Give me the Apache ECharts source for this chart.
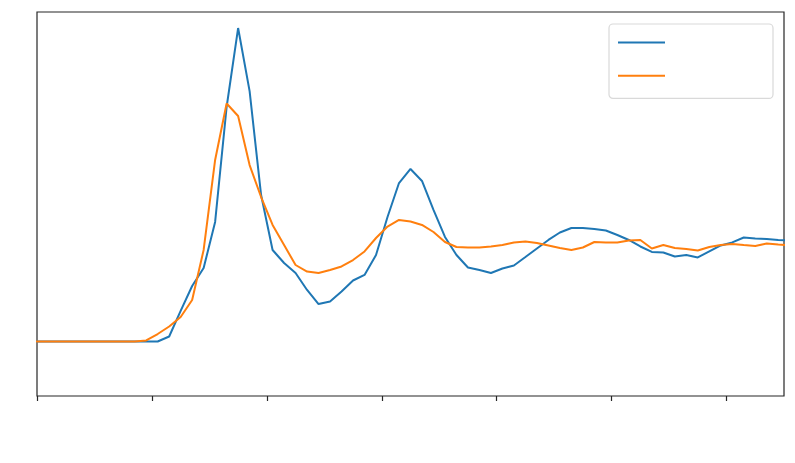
<!DOCTYPE html>
<html>
<head>
<meta charset="utf-8">
<script src="https://cdn.jsdelivr.net/npm/echarts@6/dist/echarts.min.js"></script>
<style>
html,body{margin:0;padding:0;background:#fff;}
#chart{width:795px;height:463px;}
</style>
</head>
<body>
<div id="chart"></div>
<script>
// x positions of the samples
const xValues = [-0.05,0.05,0.15,0.25,0.35,0.45,0.55,0.65,0.75,0.85,0.95,1.05,1.15,1.25,1.35,1.45,1.55,1.65,1.75,1.85,1.95,
  2.05,2.15,2.25,2.35,2.45,2.55,2.65,2.75,2.85,2.95,3.05,3.15,3.25,3.35,3.45,3.55,3.65,3.75,3.85,3.95,
  4.05,4.15,4.25,4.35,4.45,4.55,4.65,4.75,4.85,4.95,5.05,5.15,5.25,5.35,5.45,5.55,5.65,5.75,5.85,5.95,
  6.05,6.15,6.25,6.35,6.45,6.55];

// series 1 (blue)
const blueValues = [0,0,0,0,0,0,0,0,0,0,0,0,0.048,0.295,0.536,0.710,1.155,2.266,3.029,2.420,1.415,
  0.884,0.758,0.662,0.498,0.362,0.386,0.483,0.589,0.643,0.836,1.203,1.531,1.667,1.551,1.271,1.010,0.836,0.715,0.691,0.662,
  0.705,0.734,0.816,0.899,0.981,1.053,1.097,1.097,1.087,1.072,1.029,0.981,0.918,0.865,0.860,0.821,0.836,0.812,0.870,0.928,
  0.957,1.005,0.995,0.990,0.981,0.976];

// series 2 (orange)
const orangeValues = [0,0,0,0,0,0,0,0,0,0,0.010,0.072,0.145,0.237,0.401,0.884,1.754,2.300,2.179,1.705,1.396,
  1.126,0.932,0.739,0.676,0.662,0.691,0.725,0.787,0.870,1.000,1.111,1.174,1.159,1.126,1.058,0.961,0.913,0.908,0.908,0.918,
  0.932,0.957,0.966,0.952,0.928,0.903,0.884,0.908,0.961,0.957,0.957,0.976,0.981,0.899,0.932,0.903,0.894,0.879,0.913,0.932,
  0.942,0.932,0.923,0.947,0.937,0.928];

const seriesNames = ['s1', 's2'];
const xTicks = [0, 1, 2, 3, 4, 5, 6];

function pairs(xs, ys) { return xs.map((x, i) => [x, ys[i]]); }

const chart = echarts.init(document.getElementById('chart'), null, {renderer: 'canvas'});
chart.setOption({
  animation: false,
  backgroundColor: '#ffffff',
  grid: {left: 37, right: 11, top: 12, bottom: 67, show: true, borderColor: '#262626', borderWidth: 1.2, backgroundColor: 'transparent'},
  xAxis: {
    type: 'value', min: 0, max: 6.5, interval: 1,
    axisLine: {show: false, onZero: false},
    axisTick: {show: true, length: 5, inside: false, customValues: xTicks, lineStyle: {color: '#262626', width: 1.2}},
    axisLabel: {show: false},
    splitLine: {show: false}
  },
  yAxis: {
    type: 'value', min: -0.527, max: 3.184,
    axisLine: {show: false}, axisTick: {show: false}, axisLabel: {show: false}, splitLine: {show: false}
  },
  legend: {
    orient: 'vertical', left: 609, top: 24,
    data: seriesNames,
    itemWidth: 47, itemHeight: 14, itemGap: 22,
    padding: [13, 103, 17, 8],
    formatter: function () { return ''; },
    textStyle: {fontSize: 12, lineHeight: 14},
    itemStyle: {opacity: 0},
    backgroundColor: '#ffffff',
    borderColor: '#d9d9d9', borderWidth: 1.2, borderRadius: 4
  },
  series: [
    {name: seriesNames[0], type: 'line', data: pairs(xValues, blueValues), symbol: 'none', clip: true,
     lineStyle: {color: '#1f77b4', width: 2}, itemStyle: {color: '#1f77b4'}},
    {name: seriesNames[1], type: 'line', data: pairs(xValues, orangeValues), symbol: 'none', clip: true,
     lineStyle: {color: '#ff7f0e', width: 2}, itemStyle: {color: '#ff7f0e'}}
  ]
});
</script>
</body>
</html>
